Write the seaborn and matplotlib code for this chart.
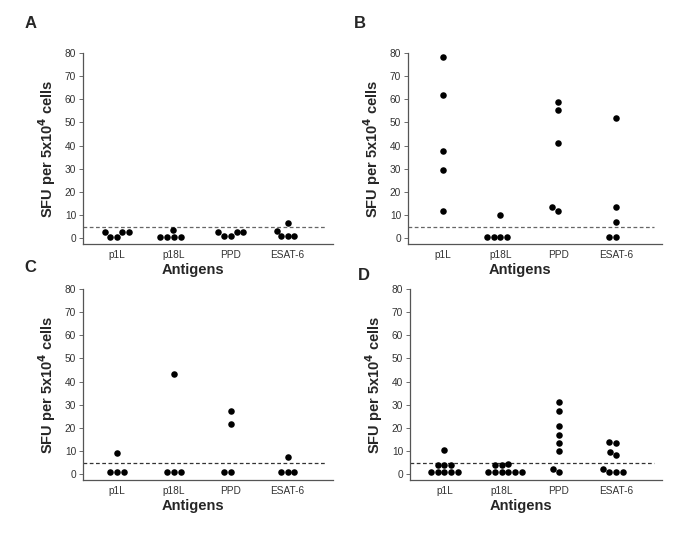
import matplotlib
matplotlib.use("Agg")

import matplotlib.pyplot as plt
import numpy as np
import pandas as pd
import seaborn as sns

# ── Data ───────────────────────────────────────────────────────────────
antigens = ["p1L", "p18L", "PPD", "ESAT-6"]

a_p1l = [2.6, 0.7, 2.6, 0.7, 2.6]
a_p18l = [0.7, 0.7, 3.5, 0.7, 0.7]
a_ppd = [2.5, 1.0, 2.5, 1.0, 2.5]
a_esat6 = [6.4, 3.2, 0.9, 0.9, 0.9]

b_p1l = [78.1, 61.8, 37.7, 29.5, 11.7]
b_p18l = [10.0, 0.4, 0.4, 0.4, 0.4]
b_ppd = [58.8, 55.3, 41.0, 13.3, 11.7]
b_esat6 = [52.1, 13.3, 7.0, 0.4, 0.4]

c_p1l = [9.1, 0.8, 0.8, 0.8]
c_p18l = [43.5, 0.8, 0.8, 0.8]
c_ppd = [27.3, 21.8, 0.8, 0.8]
c_esat6 = [7.4, 0.8, 0.8, 0.8]

d_p1l = [10.3, 4.1, 4.1, 4.1, 0.8, 0.8, 0.8, 0.8, 0.8]
d_p18l = [4.1, 4.1, 4.4, 0.8, 0.8, 0.8, 0.8, 0.8, 0.8]
d_ppd = [31.2, 27.5, 21.0, 17.1, 13.5, 10.0, 2.2, 0.8]
d_esat6 = [13.8, 13.4, 9.7, 8.4, 2.2, 0.8, 0.8, 0.8]

cutoff = 4.7

panels = {
    "A": [a_p1l, a_p18l, a_ppd, a_esat6],
    "B": [b_p1l, b_p18l, b_ppd, b_esat6],
    "C": [c_p1l, c_p18l, c_ppd, c_esat6],
    "D": [d_p1l, d_p18l, d_ppd, d_esat6],
}

yticks = [0, 10, 20, 30, 40, 50, 60, 70, 80]


def long_form(groups):
    rows = []
    for name, vals in zip(antigens, groups):
        rows += [{"antigen": name, "sfu": v} for v in vals]
    return pd.DataFrame(rows)


sns.set_style("ticks")
plt.rcParams["font.family"] = ["Liberation Sans", "DejaVu Sans"]

W, H = 685, 533
fig = plt.figure(figsize=(W / 100, H / 100), dpi=100)

# axes boxes in pixels: left, top, right, bottom
boxes = {
    "A": (83, 53, 333, 244),
    "B": (408, 53, 662, 244),
    "C": (83, 289, 333, 480),
    "D": (410, 289, 662, 480),
}
letter_pos = {"A": (25, 23), "B": (354, 23), "C": (24, 267), "D": (358, 275)}

grey = "#555555"

for key, groups in panels.items():
    l, t, r, b = boxes[key]
    ax = fig.add_axes([l / W, 1 - b / H, (r - l) / W, (b - t) / H])
    df = long_form(groups)
    sns.swarmplot(data=df, x="antigen", y="sfu", order=antigens, ax=ax,
                  color="black", size=4.7, linewidth=0)
    line_col = "#666666" if key in ("A", "B") else "#333333"
    ax.axhline(cutoff, xmin=0.0, xmax=0.97, color=line_col, lw=0.9,
               ls=(0, (3, 2)))
    ax.set_xlim(-0.6, 3.8)
    ax.set_ylim(-2.5, 80)
    ax.set_yticks(yticks)
    ax.tick_params(axis="y", length=3, width=0.6, color=grey, labelsize=7.3,
                   labelcolor="#333333", pad=2)
    ax.tick_params(axis="x", length=0, labelsize=7.3, labelcolor="#333333",
                   pad=4)
    for side in ("top", "right"):
        ax.spines[side].set_visible(False)
    for side in ("left", "bottom"):
        ax.spines[side].set_color(grey)
        ax.spines[side].set_linewidth(0.9)
    ax.set_xlabel("Antigens", fontsize=10.5, fontweight="bold", labelpad=2)
    ax.xaxis.set_label_coords(0.44, -0.1)
    ax.set_ylabel("SFU per 5x10$^{\\mathbf{4}}$ cells", fontsize=10.5,
                  fontweight="bold", labelpad=5)
    fig.text(letter_pos[key][0] / W, 1 - letter_pos[key][1] / H, key,
             fontsize=12, fontweight="bold", va="center", ha="left")

fig.savefig("out.png", dpi=100, facecolor="white")
